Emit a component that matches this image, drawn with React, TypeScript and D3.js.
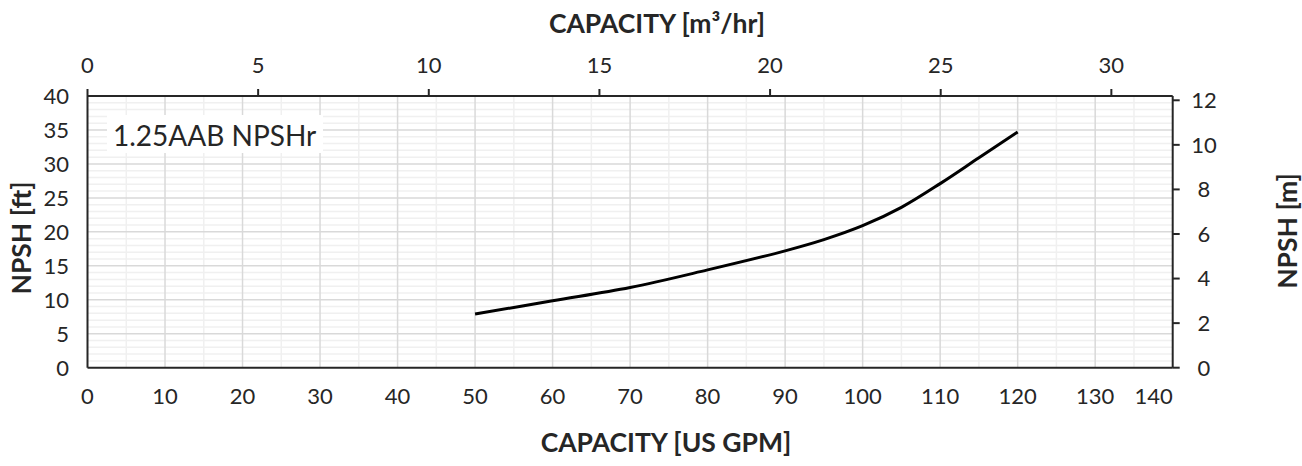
import React from "react";
import * as d3 from "d3";

const gpm = [50, 60, 70, 80, 90, 95, 100, 105, 110, 115, 120];
const npshFt = [7.9, 9.85, 11.8, 14.4, 17.2, 18.85, 20.9, 23.6, 27.1, 30.9, 34.7];
const xTicks = [0, 10, 20, 30, 40, 50, 60, 70, 80, 90, 100, 110, 120, 130, 140];
const xTopTicks = [0, 5, 10, 15, 20, 25, 30];
const yTicks = [0, 5, 10, 15, 20, 25, 30, 35, 40];
const yRightTicks = [0, 2, 4, 6, 8, 10, 12];
const chartLabel = "1.25AAB NPSHr";

const W = 1302;
const H = 466;
const L = 87.5, R = 1172.7, T = 96, B = 367.7;
const GPM_TO_M3H = 0.2271247;
const FT_TO_M = 0.3048;
const FONT = "Lato, 'Open Sans', sans-serif";
const TEXT = "#262626";

export default function App() {
  const x = d3.scaleLinear().domain([0, 140]).range([L, R]);
  const xTop = d3.scaleLinear().domain([0, 140 * GPM_TO_M3H]).range([L, R]);
  const y = d3.scaleLinear().domain([0, 40]).range([B, T]);
  const yR = d3.scaleLinear().domain([0, 40 * FT_TO_M]).range([B, T]);

  const minorX = d3.range(5, 140, 10);
  const majorX = d3.range(10, 140, 10);
  const minorY = d3.range(1, 40, 1).filter((v) => v % 5 !== 0);
  const majorY = d3.range(5, 40, 5);

  const pts = gpm.map((g, i) => [g, npshFt[i]] as [number, number]);
  const line = d3
    .line<[number, number]>()
    .x((d) => x(d[0]))
    .y((d) => y(d[1]))
    .curve(d3.curveCatmullRom.alpha(0.5));

  return (
    <svg width={W} height={H} style={{ display: "block", position: "absolute", left: 0, top: 0 }}>
      <rect x={0} y={0} width={W} height={H} fill="#fff" />
      {/* minor grid */}
      {minorY.map((v) => (
        <line key={"my" + v} x1={L} x2={R} y1={y(v)} y2={y(v)} stroke="#f0f0f0" strokeWidth={1.5} />
      ))}
      {minorX.map((v) => (
        <line key={"mx" + v} x1={x(v)} x2={x(v)} y1={T} y2={B} stroke="#f0f0f0" strokeWidth={1.5} />
      ))}
      {/* major grid */}
      {majorY.map((v) => (
        <line key={"My" + v} x1={L} x2={R} y1={y(v)} y2={y(v)} stroke="#d9d9d9" strokeWidth={1.5} />
      ))}
      {majorX.map((v) => (
        <line key={"Mx" + v} x1={x(v)} x2={x(v)} y1={T} y2={B} stroke="#d9d9d9" strokeWidth={1.5} />
      ))}

      {/* label box */}
      <rect x={107} y={115} width={216} height={38} fill="#fff" />
      <text x={113} y={145.5} fontFamily={FONT} fontSize={28} fill={TEXT}>
        {chartLabel}
      </text>

      {/* curve */}
      <path d={line(pts) || ""} fill="none" stroke="#000" strokeWidth={3} />

      {/* axes lines */}
      <line x1={L} x2={R} y1={B} y2={B} stroke={TEXT} strokeWidth={2} />
      <line x1={L} x2={R} y1={T} y2={T} stroke={TEXT} strokeWidth={2} />
      <line x1={L} x2={L} y1={T} y2={B} stroke={TEXT} strokeWidth={2} />
      <line x1={R} x2={R} y1={T} y2={B} stroke={TEXT} strokeWidth={2} />

      {/* top ticks */}
      {xTopTicks.map((v) => (
        <g key={"tt" + v}>
          <line x1={xTop(v)} x2={xTop(v)} y1={T} y2={T - 7} stroke={TEXT} strokeWidth={2} />
          <text x={xTop(v)} y={73} textAnchor="middle" fontFamily={FONT} fontSize={22} fill={TEXT}>
            {v}
          </text>
        </g>
      ))}
      {/* right ticks */}
      {yRightTicks.map((v) => (
        <g key={"rt" + v}>
          <line x1={R} x2={R + 7} y1={yR(v)} y2={yR(v)} stroke={TEXT} strokeWidth={2} />
          <text x={1204} y={yR(v)} dy="0.36em" textAnchor="middle" fontFamily={FONT} fontSize={22} fill={TEXT}>
            {v}
          </text>
        </g>
      ))}
      {/* bottom tick labels */}
      {xTicks.map((v, i) => (
        <text
          key={"bt" + v}
          x={x(v)}
          y={404}
          textAnchor={i === xTicks.length - 1 ? "end" : "middle"}
          fontFamily={FONT}
          fontSize={22}
          fill={TEXT}
        >
          {v}
        </text>
      ))}
      {/* left tick labels */}
      {yTicks.map((v) => (
        <text key={"lt" + v} x={69} y={y(v)} dy="0.36em" textAnchor="end" fontFamily={FONT} fontSize={22} fill={TEXT}>
          {v}
        </text>
      ))}

      {/* axis titles */}
      <text x={657} y={33} textAnchor="middle" fontFamily={FONT} fontSize={26.5} fontWeight="bold" fill={TEXT}>
        CAPACITY [m³/hr]
      </text>
      <text x={666} y={452} textAnchor="middle" fontFamily={FONT} fontSize={26.5} fontWeight="bold" fill={TEXT}>
        CAPACITY [US GPM]
      </text>
      <text
        transform={`translate(31,238) rotate(-90)`}
        textAnchor="middle"
        fontFamily={FONT}
        fontSize={26.5}
        fontWeight="bold"
        fill={TEXT}
      >
        NPSH [ft]
      </text>
      <text
        transform={`translate(1297,231) rotate(-90)`}
        textAnchor="middle"
        fontFamily={FONT}
        fontSize={26.5}
        fontWeight="bold"
        fill={TEXT}
      >
        NPSH [m]
      </text>
    </svg>
  );
}
